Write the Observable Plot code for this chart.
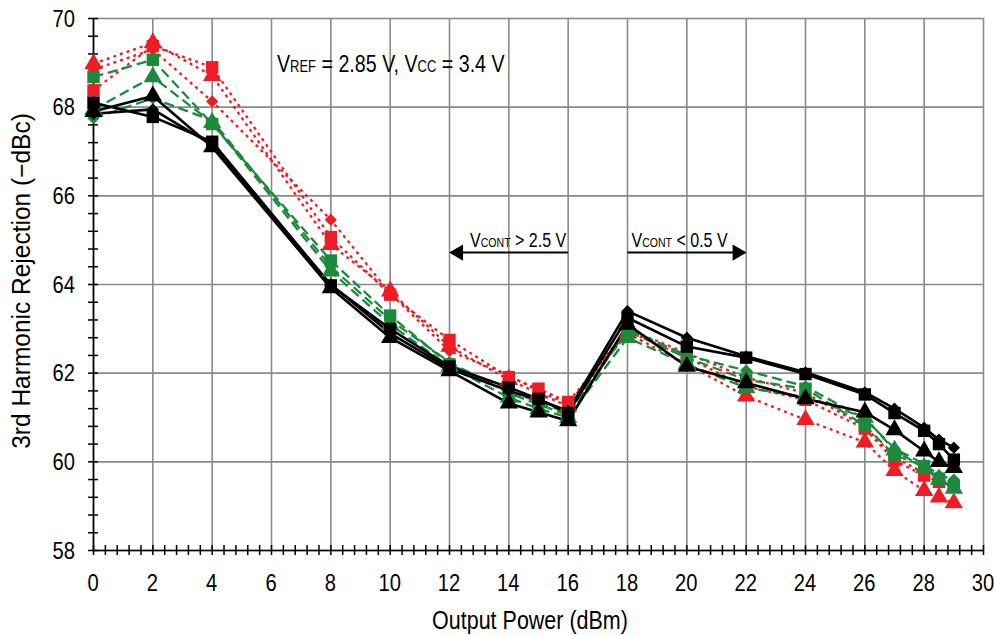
<!DOCTYPE html>
<html><head><meta charset="utf-8">
<script src="https://cdn.jsdelivr.net/npm/d3@7"></script>
<script src="https://cdn.jsdelivr.net/npm/@observablehq/plot@0.6"></script>
<style>
html,body{margin:0;padding:0;background:#fff;}
svg{display:block;}
</style>
</head><body><div id="chart"></div>
<script>
// Output power (dBm)
const power = [0, 2, 4, 8, 10, 12, 14, 15, 16, 18, 20, 22, 24, 26, 27, 28, 28.5, 29];

// Black, solid
const blackDiamond  = [67.85, 67.95, 67.15, 64.00, 62.90, 62.10, 61.60, 61.40, 61.15, 63.40, 62.80, 62.38, 62.02, 61.57, 61.20, 60.77, 60.50, 60.32];
const blackSquare   = [68.10, 67.78, 67.22, 63.98, 63.00, 62.15, 61.68, 61.42, 61.10, 63.25, 62.60, 62.35, 61.98, 61.52, 61.10, 60.70, 60.40, 60.05];
const blackTriangle = [67.90, 68.25, 67.10, 63.92, 62.80, 62.05, 61.32, 61.12, 60.92, 63.10, 62.15, 61.78, 61.42, 61.12, 60.72, 60.24, 60.00, 59.87];

// Green, dashed
const greenDiamond  = [67.75, 68.20, 67.70, 64.40, 63.20, 62.25, 61.55, 61.30, 61.05, 63.00, 62.40, 62.06, 61.70, 60.97, 60.30, 59.95, 59.70, 59.60];
const greenSquare   = [68.68, 69.07, 67.62, 64.54, 63.30, 62.20, 61.60, 61.35, 61.10, 62.95, 62.35, 61.85, 61.65, 60.82, 60.15, 59.90, 59.62, 59.45];
const greenTriangle = [67.95, 68.68, 67.65, 64.30, 63.10, 62.15, 61.45, 61.20, 61.00, 62.80, 62.20, 61.67, 61.46, 61.00, 60.26, 59.86, 59.60, 59.40];

// Red, dotted
const redDiamond  = [68.85, 69.30, 68.13, 65.46, 63.80, 62.50, 61.95, 61.60, 61.30, 63.00, 62.45, 61.90, 61.55, 60.80, 60.10, 59.75, 59.55, 59.45];
const redSquare   = [68.38, 69.38, 68.90, 65.07, 63.77, 62.75, 61.91, 61.65, 61.35, 62.95, 62.35, 61.70, 61.40, 60.75, 60.03, 59.69, 59.55, 59.45];
const redTriangle = [68.98, 69.45, 68.71, 64.90, 63.85, 62.60, 61.85, 61.55, 61.25, 62.90, 62.20, 61.48, 60.95, 60.44, 59.80, 59.35, 59.20, 59.07];

const xTicks = d3.range(0, 31, 2);
const yTicks = d3.range(58, 71, 2);

const FONT = '"Liberation Sans", Arial, sans-serif';
const RED = "#ee1c24", GREEN = "#1b8a3c", BLACK = "#000";

const series = [
  {values: redDiamond,    color: RED,   dash: "3,4",  symbol: "diamond2", r: 5.5},
  {values: redSquare,     color: RED,   dash: "3,4",  symbol: "square",   r: 7},
  {values: redTriangle,   color: RED,   dash: "3,4",  symbol: "triangle", r: 6.8},
  {values: greenDiamond,  color: GREEN, dash: "10,5", symbol: "diamond2", r: 5.5},
  {values: greenSquare,   color: GREEN, dash: "10,5", symbol: "square",   r: 7},
  {values: greenTriangle, color: GREEN, dash: "10,5", symbol: "triangle", r: 6.8},
  {values: blackDiamond,  color: BLACK, dash: null,   symbol: "diamond2", r: 5.5},
  {values: blackSquare,   color: BLACK, dash: null,   symbol: "square",   r: 7},
  {values: blackTriangle, color: BLACK, dash: null,   symbol: "triangle", r: 6.8}
];

const minorX = d3.range(0, 76).map(i => +(i * 0.4).toFixed(1));
const minorY = d3.range(0, 31).map(i => +(58 + i * 0.4).toFixed(1));

const marks = [
  Plot.gridX(xTicks.filter(d => d > 0 && d < 30), {stroke: "#8a8a8a", strokeOpacity: 1, strokeWidth: 1.6}),
  Plot.gridY(yTicks.filter(d => d > 58 && d < 70), {stroke: "#8a8a8a", strokeOpacity: 1, strokeWidth: 1.6}),
  Plot.frame({stroke: "#8a8a8a", strokeWidth: 1.6}),
  Plot.ruleX([0], {stroke: "#000", strokeWidth: 1.6}),
  Plot.ruleY([58], {stroke: "#000", strokeWidth: 1.6}),
  Plot.ruleX(minorX, {x: d => d, y1: 58, y2: 58, insetTop: -5, insetBottom: -5, stroke: "#000", strokeWidth: 1.5}),
  Plot.ruleY(minorY, {y: d => d, x1: 0, x2: 0, insetLeft: -5, insetRight: -5, stroke: "#000", strokeWidth: 1.5})
];

for (const s of series) {
  const data = power.map((x, i) => ({x, y: s.values[i]}));
  marks.push(Plot.line(data, {x: "x", y: "y", stroke: s.color, strokeWidth: s.color === BLACK ? 2.6 : 2.3, strokeDasharray: s.dash, strokeLinecap: "butt"}));
}
for (const s of series) {
  const data = power.map((x, i) => ({x, y: s.values[i]}));
  marks.push(Plot.dot(data, {x: "x", y: "y", symbol: s.symbol, r: s.r, fill: s.color, stroke: "none"}));
}

// arrows for VCONT annotations
const arrows = [{x1: 16, x2: 12.3, y: 64.72}, {x1: 18, x2: 21.7, y: 64.72}];
marks.push(Plot.link(arrows, {x1: "x1", x2: "x2", y1: "y", y2: "y", stroke: "#000", strokeWidth: 2}));
marks.push(Plot.dot(arrows, {x: "x2", y: "y", symbol: "triangle", r: 6, fill: "#000", rotate: d => d.x2 < d.x1 ? -90 : 90}));

const chart = Plot.plot({
  width: 995, height: 635,
  marginLeft: 93, marginRight: 12, marginTop: 18, marginBottom: 85,
  x: {domain: [0, 30], axis: null},
  y: {domain: [58, 70], axis: null},
  style: {fontFamily: FONT, background: "#fff", color: "#000"},
  marks
});

document.getElementById("chart").append(chart);

const svg = d3.select(chart);
const xs = chart.scale("x"), ys = chart.scale("y");

// text with a condensed look (horizontal squeeze around its anchor)
function label(x, y, parts, size, anchor, squeeze, rotate) {
  const t = svg.append("text")
    .attr("font-family", FONT)
    .attr("font-size", size)
    .attr("fill", "#000")
    .attr("text-anchor", anchor || "start")
    .attr("transform", `translate(${x},${y})` + (rotate ? ` rotate(${rotate})` : "") + ` scale(${squeeze},1)`);
  for (const [str, small] of parts) {
    t.append("tspan").attr("font-size", small ? size * 0.66 : size).text(str);
  }
  return t;
}

// tick labels, placed through Plot's scales
for (const v of xTicks) label(xs.apply(v), 590.5, [[String(v), false]], 24, "middle", 0.84);
for (const v of yTicks) label(75, ys.apply(v) + 8.6, [[String(v), false]], 24, "end", 0.84);

label(xs.apply(6.2), ys.apply(68.78), [["V", false], ["REF", true], [" = 2.85 V, V", false], ["CC", true], [" = 3.4 V", false]], 24, "start", 0.82);
label(xs.apply(15.95), ys.apply(64.83), [["V", false], ["CONT", true], [" > 2.5 V", false]], 20, "end", 0.8);
label(xs.apply(18.15), ys.apply(64.83), [["V", false], ["CONT", true], [" < 0.5 V", false]], 20, "start", 0.8);

label(530, 629, [["Output Power (dBm)", false]], 25, "middle", 0.86);
label(30, 281, [["3rd Harmonic Rejection (\u2212dBc)", false]], 25, "middle", 0.98, -90);
</script>
</body></html>
